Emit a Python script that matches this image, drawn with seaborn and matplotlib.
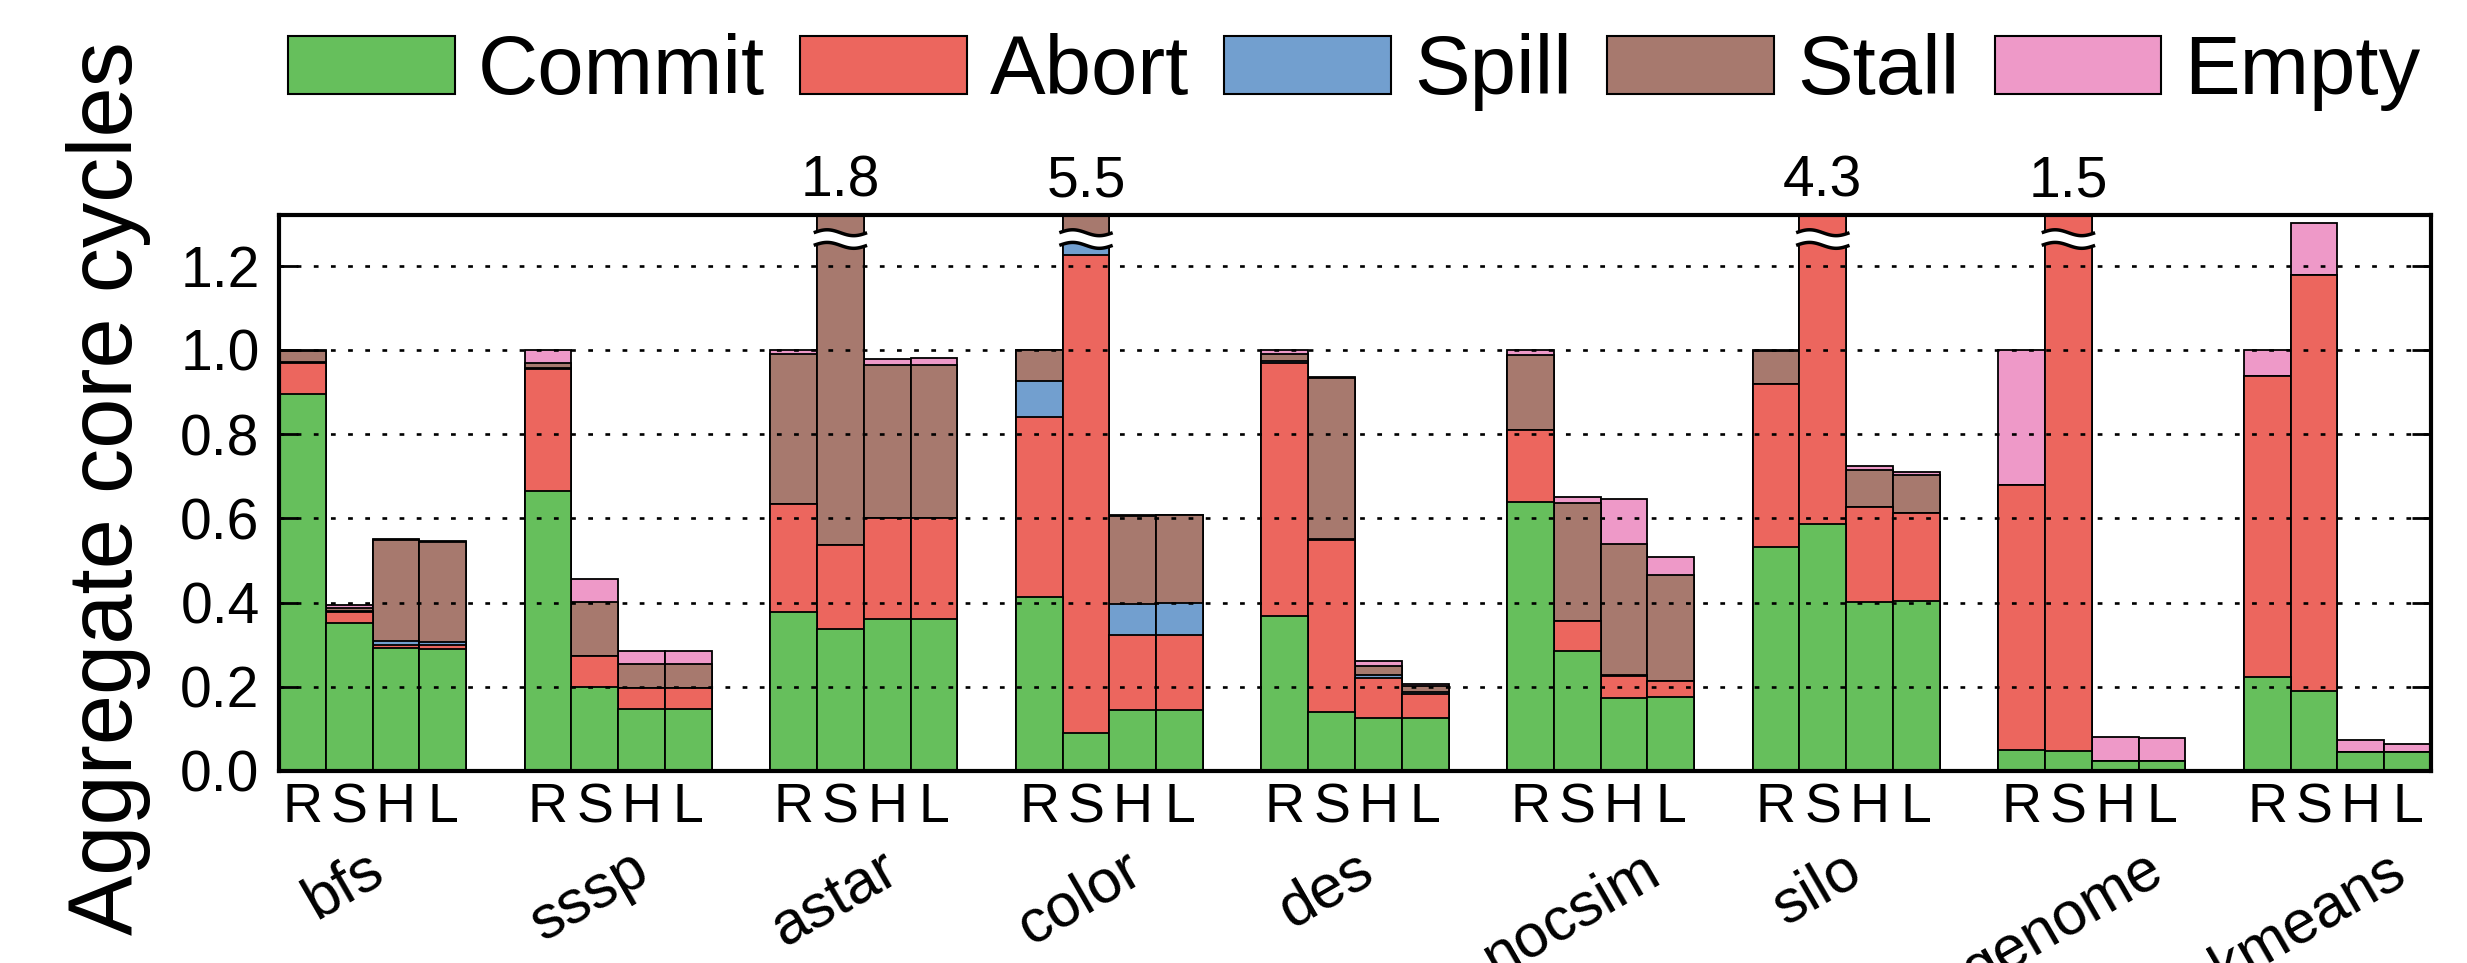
import numpy as np
import pandas as pd
import matplotlib
matplotlib.use("Agg")
import matplotlib.pyplot as plt
import matplotlib.transforms as mtransforms
from matplotlib.patches import Patch
import seaborn as sns

# ベンチマークと方式
apps = ["bfs", "sssp", "astar", "color", "des", "nocsim", "silo", "genome", "kmeans"]
schemes = ["R", "S", "H", "L"]

# 各成分の値 (アプリ x 方式)
commit = [
    [0.895, 0.351, 0.291, 0.289],
    [0.665, 0.200, 0.146, 0.146],
    [0.377, 0.336, 0.362, 0.362],
    [0.414, 0.089, 0.144, 0.144],
    [0.369, 0.139, 0.125, 0.125],
    [0.639, 0.285, 0.173, 0.175],
    [0.532, 0.586, 0.401, 0.403],
    [0.050, 0.048, 0.024, 0.024],
    [0.223, 0.189, 0.046, 0.046],
]
abort = [
    [0.073, 0.026, 0.009, 0.009],
    [0.290, 0.073, 0.052, 0.052],
    [0.256, 0.201, 0.239, 0.239],
    [0.427, 1.135, 0.180, 0.180],
    [0.599, 0.409, 0.096, 0.058],
    [0.170, 0.070, 0.052, 0.039],
    [0.386, 3.714, 0.226, 0.209],
    [0.630, 1.452, 0.000, 0.000],
    [0.714, 0.989, 0.000, 0.000],
]
spill = [
    [0.002, 0.003, 0.009, 0.009],
    [0.002, 0.000, 0.000, 0.000],
    [0.000, 0.000, 0.000, 0.000],
    [0.084, 0.040, 0.072, 0.074],
    [0.005, 0.003, 0.007, 0.005],
    [0.000, 0.000, 0.003, 0.000],
    [0.000, 0.000, 0.000, 0.000],
    [0.000, 0.000, 0.000, 0.000],
    [0.000, 0.000, 0.000, 0.000],
]
stall = [
    [0.027, 0.008, 0.239, 0.236],
    [0.012, 0.128, 0.057, 0.057],
    [0.356, 1.263, 0.363, 0.363],
    [0.075, 4.236, 0.210, 0.210],
    [0.018, 0.383, 0.022, 0.013],
    [0.179, 0.281, 0.311, 0.251],
    [0.078, 0.000, 0.087, 0.091],
    [0.000, 0.000, 0.000, 0.000],
    [0.000, 0.000, 0.000, 0.000],
]
empty = [
    [0.003, 0.006, 0.002, 0.002],
    [0.031, 0.054, 0.030, 0.030],
    [0.011, 0.000, 0.015, 0.017],
    [0.000, 0.000, 0.002, 0.000],
    [0.009, 0.001, 0.012, 0.006],
    [0.012, 0.014, 0.107, 0.042],
    [0.004, 0.000, 0.009, 0.008],
    [0.320, 0.000, 0.056, 0.054],
    [0.063, 0.123, 0.028, 0.018],
]

components = ["Commit", "Abort", "Spill", "Stall", "Empty"]
colors = ["#66bf5c", "#ec665e", "#729fcf", "#a7796e", "#ee99c8"]

YMAX = 1.32
GROUP_STEP = 5.25

# 横持ちのDataFrameを作成
rows = []
for i, app in enumerate(apps):
    for j, s in enumerate(schemes):
        rows.append({
            "app": app, "scheme": s, "pos": i * GROUP_STEP + j,
            "Commit": commit[i][j], "Abort": abort[i][j], "Spill": spill[i][j],
            "Stall": stall[i][j], "Empty": empty[i][j],
        })
df = pd.DataFrame(rows)
cum = df[components].cumsum(axis=1)
cum["pos"] = df["pos"]

sns.set_theme(style="white")
plt.rcParams["font.family"] = ["Liberation Sans", "DejaVu Sans"]
plt.rcParams["text.color"] = "black"
plt.rcParams["axes.labelcolor"] = "black"
plt.rcParams["xtick.color"] = "black"
plt.rcParams["ytick.color"] = "black"

fig = plt.figure(figsize=(24.67, 9.63), dpi=100)
ax = fig.add_axes([0.1131, 0.1994, 0.8723, 0.5773])

# 累積値を上から順に重ねて描く
for k in reversed(range(len(components))):
    sns.barplot(data=cum, x="pos", y=components[k], native_scale=True, width=1,
                color=colors[k], saturation=1, edgecolor="black", linewidth=1.3,
                errorbar=None, ax=ax)

ax.set_xlim(-0.5, (len(apps) - 1) * GROUP_STEP + len(schemes) - 0.5)
ax.set_ylim(0, YMAX)
ax.set_xlabel("")
ax.set_ylabel("")

# 軸と目盛り
ax.set_xticks(df["pos"])
ax.set_xticklabels(df["scheme"])
ax.set_yticks(np.arange(0, 1.21, 0.2))
ax.set_yticklabels([f"{v:.1f}" for v in np.arange(0, 1.21, 0.2)])
ax.tick_params(axis="x", length=0, labelsize=40, pad=8, colors="black")
ax.tick_params(axis="y", direction="in", length=14, width=2, left=True, right=True,
               labelsize=41, pad=14, colors="black")
for sp in ax.spines.values():
    sp.set_linewidth(3)
    sp.set_color("black")
    sp.set_visible(True)

ax.yaxis.grid(True, color="black", linestyle=(0, (1.8, 4.7)), linewidth=1.9)
ax.xaxis.grid(False)
ax.set_axisbelow(False)

trans = mtransforms.blended_transform_factory(ax.transData, ax.transAxes)

# はみ出した棒: 波線の切れ目と値
totals = cum["Empty"].to_numpy()
for pos, tot in zip(df["pos"], totals):
    if tot > YMAX:
        xs = np.linspace(pos - 0.57, pos + 0.57, 80)
        wave = 0.007 * np.sin((xs - xs[0]) / (xs[-1] - xs[0]) * 2 * np.pi)
        lo = 1.248 + wave
        hi = 1.278 + wave
        ax.fill_between(xs, lo, hi, color="white", zorder=5, linewidth=0)
        ax.plot(xs, lo, color="black", lw=2.5, zorder=6, solid_capstyle="butt")
        ax.plot(xs, hi, color="black", lw=2.5, zorder=6, solid_capstyle="butt")
        ax.text(pos, 1.061, f"{tot:.1f}", transform=trans, ha="center", va="center",
                fontsize=41, color="black", clip_on=False)

# アプリ名
for i, app in enumerate(apps):
    center = i * GROUP_STEP + (len(schemes) - 1) / 2
    ax.text(center - 0.62, -0.126, app, transform=trans, rotation=30,
            ha="center", va="top", fontsize=44, color="black")

fig.text(0.044, 0.493, "Aggregate core cycles", rotation=90, ha="center",
         va="center", fontsize=65, color="black")

handles = [Patch(facecolor=c, edgecolor="black", linewidth=1.5) for c in colors]
fig.legend(handles, components, loc="center", bbox_to_anchor=(0.549, 0.925), ncol=5,
           frameon=False, fontsize=60, handlelength=2.0, handleheight=0.7,
           handletextpad=0.28, columnspacing=0.42, borderaxespad=0, borderpad=0,
           labelcolor="black")

plt.savefig("out.png", dpi=100)
